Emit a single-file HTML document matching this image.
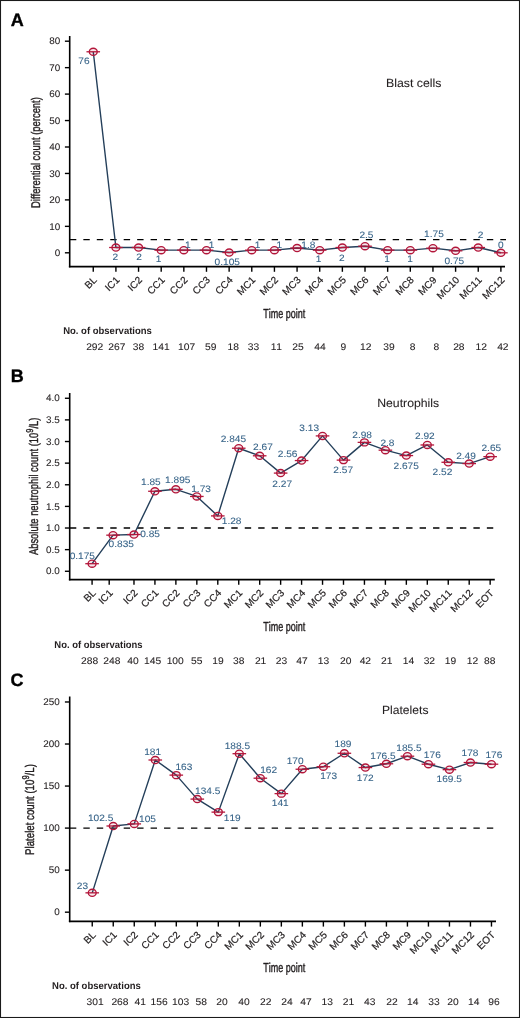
<!DOCTYPE html>
<html><head><meta charset="utf-8"><style>
html,body{margin:0;padding:0;background:#fff;}
svg{display:block;will-change:transform;}
text{font-family:"Liberation Sans", sans-serif;text-rendering:geometricPrecision;font-kerning:none;}
</style></head><body>
<svg width="520" height="1018" viewBox="0 0 520 1018">
<rect x="0" y="0" width="520" height="1018" fill="#fff"/>
<rect x="0.5" y="0.5" width="519" height="1017" fill="none" stroke="#1a1a1a" stroke-width="1.1"/>
<line x1="69.70" y1="36.00" x2="69.70" y2="267.35" stroke="#000" stroke-width="1.6"/>
<line x1="68.90" y1="266.60" x2="505.00" y2="266.60" stroke="#000" stroke-width="1.6"/>
<line x1="64.90" y1="252.80" x2="69.70" y2="252.80" stroke="#000" stroke-width="1.4"/>
<text transform="translate(54.79,256.00) scale(1.0300,1)" font-size="9.60" fill="#231f20" stroke="#231f20" stroke-width="0.08" stroke-linejoin="round">0</text>
<line x1="64.90" y1="226.35" x2="69.70" y2="226.35" stroke="#000" stroke-width="1.4"/>
<text transform="translate(49.29,229.55) scale(1.0300,1)" font-size="9.60" fill="#231f20" stroke="#231f20" stroke-width="0.08" stroke-linejoin="round">10</text>
<line x1="64.90" y1="199.90" x2="69.70" y2="199.90" stroke="#000" stroke-width="1.4"/>
<text transform="translate(49.29,203.10) scale(1.0300,1)" font-size="9.60" fill="#231f20" stroke="#231f20" stroke-width="0.08" stroke-linejoin="round">20</text>
<line x1="64.90" y1="173.45" x2="69.70" y2="173.45" stroke="#000" stroke-width="1.4"/>
<text transform="translate(49.29,176.65) scale(1.0300,1)" font-size="9.60" fill="#231f20" stroke="#231f20" stroke-width="0.08" stroke-linejoin="round">30</text>
<line x1="64.90" y1="147.00" x2="69.70" y2="147.00" stroke="#000" stroke-width="1.4"/>
<text transform="translate(49.29,150.20) scale(1.0300,1)" font-size="9.60" fill="#231f20" stroke="#231f20" stroke-width="0.08" stroke-linejoin="round">40</text>
<line x1="64.90" y1="120.55" x2="69.70" y2="120.55" stroke="#000" stroke-width="1.4"/>
<text transform="translate(49.29,123.75) scale(1.0300,1)" font-size="9.60" fill="#231f20" stroke="#231f20" stroke-width="0.08" stroke-linejoin="round">50</text>
<line x1="64.90" y1="94.10" x2="69.70" y2="94.10" stroke="#000" stroke-width="1.4"/>
<text transform="translate(49.29,97.30) scale(1.0300,1)" font-size="9.60" fill="#231f20" stroke="#231f20" stroke-width="0.08" stroke-linejoin="round">60</text>
<line x1="64.90" y1="67.65" x2="69.70" y2="67.65" stroke="#000" stroke-width="1.4"/>
<text transform="translate(49.29,70.85) scale(1.0300,1)" font-size="9.60" fill="#231f20" stroke="#231f20" stroke-width="0.08" stroke-linejoin="round">70</text>
<line x1="64.90" y1="41.20" x2="69.70" y2="41.20" stroke="#000" stroke-width="1.4"/>
<text transform="translate(49.29,44.40) scale(1.0300,1)" font-size="9.60" fill="#231f20" stroke="#231f20" stroke-width="0.08" stroke-linejoin="round">80</text>
<line x1="93.26" y1="266.60" x2="93.26" y2="271.80" stroke="#000" stroke-width="1.4"/>
<text transform="translate(97.56,280.60) rotate(-45) scale(1.0200,1)" x="-12.11" font-size="9.90" fill="#231f20" stroke="#231f20" stroke-width="0.20" stroke-linejoin="round">BL</text>
<line x1="115.91" y1="266.60" x2="115.91" y2="271.80" stroke="#000" stroke-width="1.4"/>
<text transform="translate(120.21,280.60) rotate(-45) scale(1.0200,1)" x="-15.41" font-size="9.90" fill="#231f20" stroke="#231f20" stroke-width="0.20" stroke-linejoin="round">IC1</text>
<line x1="138.55" y1="266.60" x2="138.55" y2="271.80" stroke="#000" stroke-width="1.4"/>
<text transform="translate(142.85,280.60) rotate(-45) scale(1.0200,1)" x="-15.41" font-size="9.90" fill="#231f20" stroke="#231f20" stroke-width="0.20" stroke-linejoin="round">IC2</text>
<line x1="161.20" y1="266.60" x2="161.20" y2="271.80" stroke="#000" stroke-width="1.4"/>
<text transform="translate(165.50,280.60) rotate(-45) scale(1.0200,1)" x="-19.80" font-size="9.90" fill="#231f20" stroke="#231f20" stroke-width="0.20" stroke-linejoin="round">CC1</text>
<line x1="183.84" y1="266.60" x2="183.84" y2="271.80" stroke="#000" stroke-width="1.4"/>
<text transform="translate(188.14,280.60) rotate(-45) scale(1.0200,1)" x="-19.80" font-size="9.90" fill="#231f20" stroke="#231f20" stroke-width="0.20" stroke-linejoin="round">CC2</text>
<line x1="206.49" y1="266.60" x2="206.49" y2="271.80" stroke="#000" stroke-width="1.4"/>
<text transform="translate(210.79,280.60) rotate(-45) scale(1.0200,1)" x="-19.80" font-size="9.90" fill="#231f20" stroke="#231f20" stroke-width="0.20" stroke-linejoin="round">CC3</text>
<line x1="229.14" y1="266.60" x2="229.14" y2="271.80" stroke="#000" stroke-width="1.4"/>
<text transform="translate(233.44,280.60) rotate(-45) scale(1.0200,1)" x="-19.80" font-size="9.90" fill="#231f20" stroke="#231f20" stroke-width="0.20" stroke-linejoin="round">CC4</text>
<line x1="251.78" y1="266.60" x2="251.78" y2="271.80" stroke="#000" stroke-width="1.4"/>
<text transform="translate(256.08,280.60) rotate(-45) scale(1.0200,1)" x="-20.90" font-size="9.90" fill="#231f20" stroke="#231f20" stroke-width="0.20" stroke-linejoin="round">MC1</text>
<line x1="274.43" y1="266.60" x2="274.43" y2="271.80" stroke="#000" stroke-width="1.4"/>
<text transform="translate(278.73,280.60) rotate(-45) scale(1.0200,1)" x="-20.90" font-size="9.90" fill="#231f20" stroke="#231f20" stroke-width="0.20" stroke-linejoin="round">MC2</text>
<line x1="297.07" y1="266.60" x2="297.07" y2="271.80" stroke="#000" stroke-width="1.4"/>
<text transform="translate(301.37,280.60) rotate(-45) scale(1.0200,1)" x="-20.90" font-size="9.90" fill="#231f20" stroke="#231f20" stroke-width="0.20" stroke-linejoin="round">MC3</text>
<line x1="319.72" y1="266.60" x2="319.72" y2="271.80" stroke="#000" stroke-width="1.4"/>
<text transform="translate(324.02,280.60) rotate(-45) scale(1.0200,1)" x="-20.90" font-size="9.90" fill="#231f20" stroke="#231f20" stroke-width="0.20" stroke-linejoin="round">MC4</text>
<line x1="342.37" y1="266.60" x2="342.37" y2="271.80" stroke="#000" stroke-width="1.4"/>
<text transform="translate(346.67,280.60) rotate(-45) scale(1.0200,1)" x="-20.90" font-size="9.90" fill="#231f20" stroke="#231f20" stroke-width="0.20" stroke-linejoin="round">MC5</text>
<line x1="365.01" y1="266.60" x2="365.01" y2="271.80" stroke="#000" stroke-width="1.4"/>
<text transform="translate(369.31,280.60) rotate(-45) scale(1.0200,1)" x="-20.90" font-size="9.90" fill="#231f20" stroke="#231f20" stroke-width="0.20" stroke-linejoin="round">MC6</text>
<line x1="387.66" y1="266.60" x2="387.66" y2="271.80" stroke="#000" stroke-width="1.4"/>
<text transform="translate(391.96,280.60) rotate(-45) scale(1.0200,1)" x="-20.90" font-size="9.90" fill="#231f20" stroke="#231f20" stroke-width="0.20" stroke-linejoin="round">MC7</text>
<line x1="410.30" y1="266.60" x2="410.30" y2="271.80" stroke="#000" stroke-width="1.4"/>
<text transform="translate(414.60,280.60) rotate(-45) scale(1.0200,1)" x="-20.90" font-size="9.90" fill="#231f20" stroke="#231f20" stroke-width="0.20" stroke-linejoin="round">MC8</text>
<line x1="432.95" y1="266.60" x2="432.95" y2="271.80" stroke="#000" stroke-width="1.4"/>
<text transform="translate(437.25,280.60) rotate(-45) scale(1.0200,1)" x="-20.90" font-size="9.90" fill="#231f20" stroke="#231f20" stroke-width="0.20" stroke-linejoin="round">MC9</text>
<line x1="455.60" y1="266.60" x2="455.60" y2="271.80" stroke="#000" stroke-width="1.4"/>
<text transform="translate(459.90,280.60) rotate(-45) scale(1.0200,1)" x="-26.41" font-size="9.90" fill="#231f20" stroke="#231f20" stroke-width="0.20" stroke-linejoin="round">MC10</text>
<line x1="478.24" y1="266.60" x2="478.24" y2="271.80" stroke="#000" stroke-width="1.4"/>
<text transform="translate(482.54,280.60) rotate(-45) scale(1.0200,1)" x="-26.41" font-size="9.90" fill="#231f20" stroke="#231f20" stroke-width="0.20" stroke-linejoin="round">MC11</text>
<line x1="500.89" y1="266.60" x2="500.89" y2="271.80" stroke="#000" stroke-width="1.4"/>
<text transform="translate(505.19,280.60) rotate(-45) scale(1.0200,1)" x="-26.41" font-size="9.90" fill="#231f20" stroke="#231f20" stroke-width="0.20" stroke-linejoin="round">MC12</text>
<line x1="69.90" y1="239.58" x2="506.00" y2="239.58" stroke="#000" stroke-width="1.35" stroke-dasharray="6.4 7.05"/>
<polyline points="93.26,51.78 115.91,247.51 138.55,247.51 161.20,250.16 183.84,250.16 206.49,250.16 229.14,252.52 251.78,250.16 274.43,250.16 297.07,248.04 319.72,250.16 342.37,247.51 365.01,246.19 387.66,250.16 410.30,250.16 432.95,248.17 455.60,250.82 478.24,247.51 500.89,252.80" fill="none" stroke="#243f5a" stroke-width="1.4" stroke-linejoin="round"/>
<ellipse cx="93.26" cy="51.78" rx="3.95" ry="3.55" fill="#b3163a" fill-opacity="0.1" stroke="#b3163a" stroke-width="1.35"/>
<line x1="86.46" y1="51.78" x2="100.06" y2="51.78" stroke="#b3163a" stroke-width="1.3"/>
<ellipse cx="115.91" cy="247.51" rx="3.95" ry="3.55" fill="#b3163a" fill-opacity="0.1" stroke="#b3163a" stroke-width="1.35"/>
<line x1="109.11" y1="247.51" x2="122.71" y2="247.51" stroke="#b3163a" stroke-width="1.3"/>
<ellipse cx="138.55" cy="247.51" rx="3.95" ry="3.55" fill="#b3163a" fill-opacity="0.1" stroke="#b3163a" stroke-width="1.35"/>
<line x1="131.75" y1="247.51" x2="145.35" y2="247.51" stroke="#b3163a" stroke-width="1.3"/>
<ellipse cx="161.20" cy="250.16" rx="3.95" ry="3.55" fill="#b3163a" fill-opacity="0.1" stroke="#b3163a" stroke-width="1.35"/>
<line x1="154.40" y1="250.16" x2="168.00" y2="250.16" stroke="#b3163a" stroke-width="1.3"/>
<ellipse cx="183.84" cy="250.16" rx="3.95" ry="3.55" fill="#b3163a" fill-opacity="0.1" stroke="#b3163a" stroke-width="1.35"/>
<line x1="177.04" y1="250.16" x2="190.64" y2="250.16" stroke="#b3163a" stroke-width="1.3"/>
<ellipse cx="206.49" cy="250.16" rx="3.95" ry="3.55" fill="#b3163a" fill-opacity="0.1" stroke="#b3163a" stroke-width="1.35"/>
<line x1="199.69" y1="250.16" x2="213.29" y2="250.16" stroke="#b3163a" stroke-width="1.3"/>
<ellipse cx="229.14" cy="252.52" rx="3.95" ry="3.55" fill="#b3163a" fill-opacity="0.1" stroke="#b3163a" stroke-width="1.35"/>
<line x1="222.34" y1="252.52" x2="235.94" y2="252.52" stroke="#b3163a" stroke-width="1.3"/>
<ellipse cx="251.78" cy="250.16" rx="3.95" ry="3.55" fill="#b3163a" fill-opacity="0.1" stroke="#b3163a" stroke-width="1.35"/>
<line x1="244.98" y1="250.16" x2="258.58" y2="250.16" stroke="#b3163a" stroke-width="1.3"/>
<ellipse cx="274.43" cy="250.16" rx="3.95" ry="3.55" fill="#b3163a" fill-opacity="0.1" stroke="#b3163a" stroke-width="1.35"/>
<line x1="267.63" y1="250.16" x2="281.23" y2="250.16" stroke="#b3163a" stroke-width="1.3"/>
<ellipse cx="297.07" cy="248.04" rx="3.95" ry="3.55" fill="#b3163a" fill-opacity="0.1" stroke="#b3163a" stroke-width="1.35"/>
<line x1="290.27" y1="248.04" x2="303.87" y2="248.04" stroke="#b3163a" stroke-width="1.3"/>
<ellipse cx="319.72" cy="250.16" rx="3.95" ry="3.55" fill="#b3163a" fill-opacity="0.1" stroke="#b3163a" stroke-width="1.35"/>
<line x1="312.92" y1="250.16" x2="326.52" y2="250.16" stroke="#b3163a" stroke-width="1.3"/>
<ellipse cx="342.37" cy="247.51" rx="3.95" ry="3.55" fill="#b3163a" fill-opacity="0.1" stroke="#b3163a" stroke-width="1.35"/>
<line x1="335.57" y1="247.51" x2="349.17" y2="247.51" stroke="#b3163a" stroke-width="1.3"/>
<ellipse cx="365.01" cy="246.19" rx="3.95" ry="3.55" fill="#b3163a" fill-opacity="0.1" stroke="#b3163a" stroke-width="1.35"/>
<line x1="358.21" y1="246.19" x2="371.81" y2="246.19" stroke="#b3163a" stroke-width="1.3"/>
<ellipse cx="387.66" cy="250.16" rx="3.95" ry="3.55" fill="#b3163a" fill-opacity="0.1" stroke="#b3163a" stroke-width="1.35"/>
<line x1="380.86" y1="250.16" x2="394.46" y2="250.16" stroke="#b3163a" stroke-width="1.3"/>
<ellipse cx="410.30" cy="250.16" rx="3.95" ry="3.55" fill="#b3163a" fill-opacity="0.1" stroke="#b3163a" stroke-width="1.35"/>
<line x1="403.50" y1="250.16" x2="417.10" y2="250.16" stroke="#b3163a" stroke-width="1.3"/>
<ellipse cx="432.95" cy="248.17" rx="3.95" ry="3.55" fill="#b3163a" fill-opacity="0.1" stroke="#b3163a" stroke-width="1.35"/>
<line x1="426.15" y1="248.17" x2="439.75" y2="248.17" stroke="#b3163a" stroke-width="1.3"/>
<ellipse cx="455.60" cy="250.82" rx="3.95" ry="3.55" fill="#b3163a" fill-opacity="0.1" stroke="#b3163a" stroke-width="1.35"/>
<line x1="448.80" y1="250.82" x2="462.40" y2="250.82" stroke="#b3163a" stroke-width="1.3"/>
<ellipse cx="478.24" cy="247.51" rx="3.95" ry="3.55" fill="#b3163a" fill-opacity="0.1" stroke="#b3163a" stroke-width="1.35"/>
<line x1="471.44" y1="247.51" x2="485.04" y2="247.51" stroke="#b3163a" stroke-width="1.3"/>
<ellipse cx="500.89" cy="252.80" rx="3.95" ry="3.55" fill="#b3163a" fill-opacity="0.1" stroke="#b3163a" stroke-width="1.35"/>
<line x1="494.09" y1="252.80" x2="507.69" y2="252.80" stroke="#b3163a" stroke-width="1.3"/>
<text transform="translate(78.32,63.69) scale(1.0800,1)" font-size="9.40" fill="#356287" stroke="#356287" stroke-width="0.08" stroke-linejoin="round">76</text>
<text transform="translate(112.48,259.88) scale(1.0800,1)" font-size="9.40" fill="#356287" stroke="#356287" stroke-width="0.08" stroke-linejoin="round">2</text>
<text transform="translate(136.28,259.53) scale(1.0800,1)" font-size="9.40" fill="#356287" stroke="#356287" stroke-width="0.08" stroke-linejoin="round">2</text>
<text transform="translate(155.79,262.33) scale(1.0800,1)" font-size="9.40" fill="#356287" stroke="#356287" stroke-width="0.08" stroke-linejoin="round">1</text>
<text transform="translate(184.99,247.68) scale(1.0800,1)" font-size="9.40" fill="#356287" stroke="#356287" stroke-width="0.08" stroke-linejoin="round">1</text>
<text transform="translate(208.64,247.68) scale(1.0800,1)" font-size="9.40" fill="#356287" stroke="#356287" stroke-width="0.08" stroke-linejoin="round">1</text>
<text transform="translate(214.61,264.74) scale(1.0800,1)" font-size="9.40" fill="#356287" stroke="#356287" stroke-width="0.08" stroke-linejoin="round">0.105</text>
<text transform="translate(254.84,247.53) scale(1.0800,1)" font-size="9.40" fill="#356287" stroke="#356287" stroke-width="0.08" stroke-linejoin="round">1</text>
<text transform="translate(276.44,247.53) scale(1.0800,1)" font-size="9.40" fill="#356287" stroke="#356287" stroke-width="0.08" stroke-linejoin="round">1</text>
<text transform="translate(301.28,248.04) scale(1.0800,1)" font-size="9.40" fill="#356287" stroke="#356287" stroke-width="0.08" stroke-linejoin="round">1.8</text>
<text transform="translate(315.79,262.48) scale(1.0800,1)" font-size="9.40" fill="#356287" stroke="#356287" stroke-width="0.08" stroke-linejoin="round">1</text>
<text transform="translate(338.98,261.08) scale(1.0800,1)" font-size="9.40" fill="#356287" stroke="#356287" stroke-width="0.08" stroke-linejoin="round">2</text>
<text transform="translate(359.40,237.59) scale(1.0800,1)" font-size="9.40" fill="#356287" stroke="#356287" stroke-width="0.08" stroke-linejoin="round">2.5</text>
<text transform="translate(384.14,262.13) scale(1.0800,1)" font-size="9.40" fill="#356287" stroke="#356287" stroke-width="0.08" stroke-linejoin="round">1</text>
<text transform="translate(407.24,262.03) scale(1.0800,1)" font-size="9.40" fill="#356287" stroke="#356287" stroke-width="0.08" stroke-linejoin="round">1</text>
<text transform="translate(424.05,237.44) scale(1.0800,1)" font-size="9.40" fill="#356287" stroke="#356287" stroke-width="0.08" stroke-linejoin="round">1.75</text>
<text transform="translate(444.44,263.59) scale(1.0800,1)" font-size="9.40" fill="#356287" stroke="#356287" stroke-width="0.08" stroke-linejoin="round">0.75</text>
<text transform="translate(477.68,237.53) scale(1.0800,1)" font-size="9.40" fill="#356287" stroke="#356287" stroke-width="0.08" stroke-linejoin="round">2</text>
<text transform="translate(497.98,248.09) scale(1.0800,1)" font-size="9.40" fill="#356287" stroke="#356287" stroke-width="0.08" stroke-linejoin="round">0</text>
<text transform="translate(385.99,86.60) scale(1.0440,1)" font-size="11.80" fill="#231f20" stroke="#231f20" stroke-width="0.08" stroke-linejoin="round">Blast cells</text>
<text transform="translate(39.90,207.97) rotate(-90) scale(0.7467,1)" font-size="12.60" fill="#231f20" stroke="#231f20" stroke-width="0.42" stroke-linejoin="round">Differential count (percent)</text>
<text transform="translate(263.30,317.50) scale(0.6915,1)" font-size="13.00" fill="#231f20" stroke="#231f20" stroke-width="0.42" stroke-linejoin="round">Time point</text>
<text transform="translate(63.16,334.20) scale(0.9505,1)" font-size="10.00" font-weight="bold" fill="#231f20">No. of observations</text>
<text transform="translate(86.13,349.90) scale(1.0700,1)" font-size="9.60" fill="#231f20" stroke="#231f20" stroke-width="0.08" stroke-linejoin="round">292</text>
<text transform="translate(108.33,349.90) scale(1.0700,1)" font-size="9.60" fill="#231f20" stroke="#231f20" stroke-width="0.08" stroke-linejoin="round">267</text>
<text transform="translate(132.71,349.90) scale(1.0700,1)" font-size="9.60" fill="#231f20" stroke="#231f20" stroke-width="0.08" stroke-linejoin="round">38</text>
<text transform="translate(152.49,349.90) scale(1.0700,1)" font-size="9.60" fill="#231f20" stroke="#231f20" stroke-width="0.08" stroke-linejoin="round">141</text>
<text transform="translate(178.00,349.90) scale(1.0700,1)" font-size="9.60" fill="#231f20" stroke="#231f20" stroke-width="0.08" stroke-linejoin="round">107</text>
<text transform="translate(204.92,349.90) scale(1.0700,1)" font-size="9.60" fill="#231f20" stroke="#231f20" stroke-width="0.08" stroke-linejoin="round">59</text>
<text transform="translate(227.62,349.90) scale(1.0700,1)" font-size="9.60" fill="#231f20" stroke="#231f20" stroke-width="0.08" stroke-linejoin="round">18</text>
<text transform="translate(247.82,349.90) scale(1.0700,1)" font-size="9.60" fill="#231f20" stroke="#231f20" stroke-width="0.08" stroke-linejoin="round">33</text>
<text transform="translate(270.65,349.90) scale(1.0700,1)" font-size="9.60" fill="#231f20" stroke="#231f20" stroke-width="0.08" stroke-linejoin="round">11</text>
<text transform="translate(292.34,349.90) scale(1.0700,1)" font-size="9.60" fill="#231f20" stroke="#231f20" stroke-width="0.08" stroke-linejoin="round">25</text>
<text transform="translate(314.32,349.90) scale(1.0700,1)" font-size="9.60" fill="#231f20" stroke="#231f20" stroke-width="0.08" stroke-linejoin="round">44</text>
<text transform="translate(340.45,349.90) scale(1.0700,1)" font-size="9.60" fill="#231f20" stroke="#231f20" stroke-width="0.08" stroke-linejoin="round">9</text>
<text transform="translate(359.95,349.95) scale(1.0700,1)" font-size="9.60" fill="#231f20" stroke="#231f20" stroke-width="0.08" stroke-linejoin="round">12</text>
<text transform="translate(383.33,349.90) scale(1.0700,1)" font-size="9.60" fill="#231f20" stroke="#231f20" stroke-width="0.08" stroke-linejoin="round">39</text>
<text transform="translate(409.64,349.90) scale(1.0700,1)" font-size="9.60" fill="#231f20" stroke="#231f20" stroke-width="0.08" stroke-linejoin="round">8</text>
<text transform="translate(433.44,349.90) scale(1.0700,1)" font-size="9.60" fill="#231f20" stroke="#231f20" stroke-width="0.08" stroke-linejoin="round">8</text>
<text transform="translate(453.15,349.90) scale(1.0700,1)" font-size="9.60" fill="#231f20" stroke="#231f20" stroke-width="0.08" stroke-linejoin="round">28</text>
<text transform="translate(475.55,349.95) scale(1.0700,1)" font-size="9.60" fill="#231f20" stroke="#231f20" stroke-width="0.08" stroke-linejoin="round">12</text>
<text transform="translate(497.13,349.95) scale(1.0700,1)" font-size="9.60" fill="#231f20" stroke="#231f20" stroke-width="0.08" stroke-linejoin="round">42</text>
<text transform="translate(10.66,25.69)" font-size="18.00" font-weight="bold" fill="#000" stroke="#000" stroke-width="0.35" stroke-linejoin="round">A</text>
<line x1="69.70" y1="393.00" x2="69.70" y2="580.35" stroke="#000" stroke-width="1.6"/>
<line x1="68.90" y1="579.60" x2="494.80" y2="579.60" stroke="#000" stroke-width="1.6"/>
<line x1="64.90" y1="571.27" x2="69.70" y2="571.27" stroke="#000" stroke-width="1.4"/>
<text transform="translate(45.94,574.47) scale(1.0300,1)" font-size="9.60" fill="#231f20" stroke="#231f20" stroke-width="0.08" stroke-linejoin="round">0.0</text>
<line x1="64.90" y1="549.64" x2="69.70" y2="549.64" stroke="#000" stroke-width="1.4"/>
<text transform="translate(45.97,552.85) scale(1.0300,1)" font-size="9.60" fill="#231f20" stroke="#231f20" stroke-width="0.08" stroke-linejoin="round">0.5</text>
<line x1="64.90" y1="528.02" x2="69.70" y2="528.02" stroke="#000" stroke-width="1.4"/>
<text transform="translate(45.94,531.22) scale(1.0300,1)" font-size="9.60" fill="#231f20" stroke="#231f20" stroke-width="0.08" stroke-linejoin="round">1.0</text>
<line x1="64.90" y1="506.39" x2="69.70" y2="506.39" stroke="#000" stroke-width="1.4"/>
<text transform="translate(45.97,509.55) scale(1.0300,1)" font-size="9.60" fill="#231f20" stroke="#231f20" stroke-width="0.08" stroke-linejoin="round">1.5</text>
<line x1="64.90" y1="484.77" x2="69.70" y2="484.77" stroke="#000" stroke-width="1.4"/>
<text transform="translate(45.94,487.97) scale(1.0300,1)" font-size="9.60" fill="#231f20" stroke="#231f20" stroke-width="0.08" stroke-linejoin="round">2.0</text>
<line x1="64.90" y1="463.14" x2="69.70" y2="463.14" stroke="#000" stroke-width="1.4"/>
<text transform="translate(45.97,466.35) scale(1.0300,1)" font-size="9.60" fill="#231f20" stroke="#231f20" stroke-width="0.08" stroke-linejoin="round">2.5</text>
<line x1="64.90" y1="441.52" x2="69.70" y2="441.52" stroke="#000" stroke-width="1.4"/>
<text transform="translate(45.94,444.72) scale(1.0300,1)" font-size="9.60" fill="#231f20" stroke="#231f20" stroke-width="0.08" stroke-linejoin="round">3.0</text>
<line x1="64.90" y1="419.89" x2="69.70" y2="419.89" stroke="#000" stroke-width="1.4"/>
<text transform="translate(45.97,423.10) scale(1.0300,1)" font-size="9.60" fill="#231f20" stroke="#231f20" stroke-width="0.08" stroke-linejoin="round">3.5</text>
<line x1="64.90" y1="398.27" x2="69.70" y2="398.27" stroke="#000" stroke-width="1.4"/>
<text transform="translate(45.94,401.47) scale(1.0300,1)" font-size="9.60" fill="#231f20" stroke="#231f20" stroke-width="0.08" stroke-linejoin="round">4.0</text>
<line x1="92.08" y1="579.60" x2="92.08" y2="584.80" stroke="#000" stroke-width="1.4"/>
<text transform="translate(96.38,593.60) rotate(-45) scale(1.0200,1)" x="-12.11" font-size="9.90" fill="#231f20" stroke="#231f20" stroke-width="0.20" stroke-linejoin="round">BL</text>
<line x1="109.20" y1="579.60" x2="109.20" y2="584.80" stroke="#000" stroke-width="1.4"/>
<text transform="translate(113.50,593.60) rotate(-45) scale(1.0200,1)" x="-15.41" font-size="9.90" fill="#231f20" stroke="#231f20" stroke-width="0.20" stroke-linejoin="round">IC1</text>
<line x1="133.98" y1="579.60" x2="133.98" y2="584.80" stroke="#000" stroke-width="1.4"/>
<text transform="translate(138.28,593.60) rotate(-45) scale(1.0200,1)" x="-15.41" font-size="9.90" fill="#231f20" stroke="#231f20" stroke-width="0.20" stroke-linejoin="round">IC2</text>
<line x1="154.93" y1="579.60" x2="154.93" y2="584.80" stroke="#000" stroke-width="1.4"/>
<text transform="translate(159.23,593.60) rotate(-45) scale(1.0200,1)" x="-19.80" font-size="9.90" fill="#231f20" stroke="#231f20" stroke-width="0.20" stroke-linejoin="round">CC1</text>
<line x1="175.88" y1="579.60" x2="175.88" y2="584.80" stroke="#000" stroke-width="1.4"/>
<text transform="translate(180.18,593.60) rotate(-45) scale(1.0200,1)" x="-19.80" font-size="9.90" fill="#231f20" stroke="#231f20" stroke-width="0.20" stroke-linejoin="round">CC2</text>
<line x1="196.83" y1="579.60" x2="196.83" y2="584.80" stroke="#000" stroke-width="1.4"/>
<text transform="translate(201.13,593.60) rotate(-45) scale(1.0200,1)" x="-19.80" font-size="9.90" fill="#231f20" stroke="#231f20" stroke-width="0.20" stroke-linejoin="round">CC3</text>
<line x1="217.79" y1="579.60" x2="217.79" y2="584.80" stroke="#000" stroke-width="1.4"/>
<text transform="translate(222.09,593.60) rotate(-45) scale(1.0200,1)" x="-19.80" font-size="9.90" fill="#231f20" stroke="#231f20" stroke-width="0.20" stroke-linejoin="round">CC4</text>
<line x1="238.74" y1="579.60" x2="238.74" y2="584.80" stroke="#000" stroke-width="1.4"/>
<text transform="translate(243.04,593.60) rotate(-45) scale(1.0200,1)" x="-20.90" font-size="9.90" fill="#231f20" stroke="#231f20" stroke-width="0.20" stroke-linejoin="round">MC1</text>
<line x1="259.69" y1="579.60" x2="259.69" y2="584.80" stroke="#000" stroke-width="1.4"/>
<text transform="translate(263.99,593.60) rotate(-45) scale(1.0200,1)" x="-20.90" font-size="9.90" fill="#231f20" stroke="#231f20" stroke-width="0.20" stroke-linejoin="round">MC2</text>
<line x1="280.64" y1="579.60" x2="280.64" y2="584.80" stroke="#000" stroke-width="1.4"/>
<text transform="translate(284.94,593.60) rotate(-45) scale(1.0200,1)" x="-20.90" font-size="9.90" fill="#231f20" stroke="#231f20" stroke-width="0.20" stroke-linejoin="round">MC3</text>
<line x1="301.59" y1="579.60" x2="301.59" y2="584.80" stroke="#000" stroke-width="1.4"/>
<text transform="translate(305.89,593.60) rotate(-45) scale(1.0200,1)" x="-20.90" font-size="9.90" fill="#231f20" stroke="#231f20" stroke-width="0.20" stroke-linejoin="round">MC4</text>
<line x1="322.54" y1="579.60" x2="322.54" y2="584.80" stroke="#000" stroke-width="1.4"/>
<text transform="translate(326.84,593.60) rotate(-45) scale(1.0200,1)" x="-20.90" font-size="9.90" fill="#231f20" stroke="#231f20" stroke-width="0.20" stroke-linejoin="round">MC5</text>
<line x1="343.49" y1="579.60" x2="343.49" y2="584.80" stroke="#000" stroke-width="1.4"/>
<text transform="translate(347.79,593.60) rotate(-45) scale(1.0200,1)" x="-20.90" font-size="9.90" fill="#231f20" stroke="#231f20" stroke-width="0.20" stroke-linejoin="round">MC6</text>
<line x1="364.44" y1="579.60" x2="364.44" y2="584.80" stroke="#000" stroke-width="1.4"/>
<text transform="translate(368.74,593.60) rotate(-45) scale(1.0200,1)" x="-20.90" font-size="9.90" fill="#231f20" stroke="#231f20" stroke-width="0.20" stroke-linejoin="round">MC7</text>
<line x1="385.39" y1="579.60" x2="385.39" y2="584.80" stroke="#000" stroke-width="1.4"/>
<text transform="translate(389.69,593.60) rotate(-45) scale(1.0200,1)" x="-20.90" font-size="9.90" fill="#231f20" stroke="#231f20" stroke-width="0.20" stroke-linejoin="round">MC8</text>
<line x1="406.34" y1="579.60" x2="406.34" y2="584.80" stroke="#000" stroke-width="1.4"/>
<text transform="translate(410.64,593.60) rotate(-45) scale(1.0200,1)" x="-20.90" font-size="9.90" fill="#231f20" stroke="#231f20" stroke-width="0.20" stroke-linejoin="round">MC9</text>
<line x1="427.30" y1="579.60" x2="427.30" y2="584.80" stroke="#000" stroke-width="1.4"/>
<text transform="translate(431.60,593.60) rotate(-45) scale(1.0200,1)" x="-26.41" font-size="9.90" fill="#231f20" stroke="#231f20" stroke-width="0.20" stroke-linejoin="round">MC10</text>
<line x1="448.25" y1="579.60" x2="448.25" y2="584.80" stroke="#000" stroke-width="1.4"/>
<text transform="translate(452.55,593.60) rotate(-45) scale(1.0200,1)" x="-26.41" font-size="9.90" fill="#231f20" stroke="#231f20" stroke-width="0.20" stroke-linejoin="round">MC11</text>
<line x1="469.20" y1="579.60" x2="469.20" y2="584.80" stroke="#000" stroke-width="1.4"/>
<text transform="translate(473.50,593.60) rotate(-45) scale(1.0200,1)" x="-26.41" font-size="9.90" fill="#231f20" stroke="#231f20" stroke-width="0.20" stroke-linejoin="round">MC12</text>
<line x1="490.15" y1="579.60" x2="490.15" y2="584.80" stroke="#000" stroke-width="1.4"/>
<text transform="translate(494.45,593.60) rotate(-45) scale(1.0200,1)" x="-20.35" font-size="9.90" fill="#231f20" stroke="#231f20" stroke-width="0.20" stroke-linejoin="round">EOT</text>
<line x1="69.90" y1="528.02" x2="494.00" y2="528.02" stroke="#000" stroke-width="1.35" stroke-dasharray="6.4 7.05"/>
<polyline points="92.08,563.70 113.03,535.16 133.98,534.51 154.93,491.26 175.88,489.31 196.83,496.45 217.79,515.91 238.74,448.22 259.69,455.79 280.64,473.09 301.59,460.55 322.54,435.90 343.49,460.12 364.44,442.38 385.39,450.17 406.34,455.58 427.30,444.98 448.25,462.28 469.20,463.58 490.15,456.66" fill="none" stroke="#243f5a" stroke-width="1.4" stroke-linejoin="round"/>
<ellipse cx="92.08" cy="563.70" rx="3.95" ry="3.55" fill="#b3163a" fill-opacity="0.1" stroke="#b3163a" stroke-width="1.35"/>
<line x1="85.28" y1="563.70" x2="98.88" y2="563.70" stroke="#b3163a" stroke-width="1.3"/>
<ellipse cx="113.03" cy="535.16" rx="3.95" ry="3.55" fill="#b3163a" fill-opacity="0.1" stroke="#b3163a" stroke-width="1.35"/>
<line x1="106.23" y1="535.16" x2="119.83" y2="535.16" stroke="#b3163a" stroke-width="1.3"/>
<ellipse cx="133.98" cy="534.51" rx="3.95" ry="3.55" fill="#b3163a" fill-opacity="0.1" stroke="#b3163a" stroke-width="1.35"/>
<line x1="127.18" y1="534.51" x2="140.78" y2="534.51" stroke="#b3163a" stroke-width="1.3"/>
<ellipse cx="154.93" cy="491.26" rx="3.95" ry="3.55" fill="#b3163a" fill-opacity="0.1" stroke="#b3163a" stroke-width="1.35"/>
<line x1="148.13" y1="491.26" x2="161.73" y2="491.26" stroke="#b3163a" stroke-width="1.3"/>
<ellipse cx="175.88" cy="489.31" rx="3.95" ry="3.55" fill="#b3163a" fill-opacity="0.1" stroke="#b3163a" stroke-width="1.35"/>
<line x1="169.08" y1="489.31" x2="182.68" y2="489.31" stroke="#b3163a" stroke-width="1.3"/>
<ellipse cx="196.83" cy="496.45" rx="3.95" ry="3.55" fill="#b3163a" fill-opacity="0.1" stroke="#b3163a" stroke-width="1.35"/>
<line x1="190.03" y1="496.45" x2="203.63" y2="496.45" stroke="#b3163a" stroke-width="1.3"/>
<ellipse cx="217.79" cy="515.91" rx="3.95" ry="3.55" fill="#b3163a" fill-opacity="0.1" stroke="#b3163a" stroke-width="1.35"/>
<line x1="210.99" y1="515.91" x2="224.59" y2="515.91" stroke="#b3163a" stroke-width="1.3"/>
<ellipse cx="238.74" cy="448.22" rx="3.95" ry="3.55" fill="#b3163a" fill-opacity="0.1" stroke="#b3163a" stroke-width="1.35"/>
<line x1="231.94" y1="448.22" x2="245.54" y2="448.22" stroke="#b3163a" stroke-width="1.3"/>
<ellipse cx="259.69" cy="455.79" rx="3.95" ry="3.55" fill="#b3163a" fill-opacity="0.1" stroke="#b3163a" stroke-width="1.35"/>
<line x1="252.89" y1="455.79" x2="266.49" y2="455.79" stroke="#b3163a" stroke-width="1.3"/>
<ellipse cx="280.64" cy="473.09" rx="3.95" ry="3.55" fill="#b3163a" fill-opacity="0.1" stroke="#b3163a" stroke-width="1.35"/>
<line x1="273.84" y1="473.09" x2="287.44" y2="473.09" stroke="#b3163a" stroke-width="1.3"/>
<ellipse cx="301.59" cy="460.55" rx="3.95" ry="3.55" fill="#b3163a" fill-opacity="0.1" stroke="#b3163a" stroke-width="1.35"/>
<line x1="294.79" y1="460.55" x2="308.39" y2="460.55" stroke="#b3163a" stroke-width="1.3"/>
<ellipse cx="322.54" cy="435.90" rx="3.95" ry="3.55" fill="#b3163a" fill-opacity="0.1" stroke="#b3163a" stroke-width="1.35"/>
<line x1="315.74" y1="435.90" x2="329.34" y2="435.90" stroke="#b3163a" stroke-width="1.3"/>
<ellipse cx="343.49" cy="460.12" rx="3.95" ry="3.55" fill="#b3163a" fill-opacity="0.1" stroke="#b3163a" stroke-width="1.35"/>
<line x1="336.69" y1="460.12" x2="350.29" y2="460.12" stroke="#b3163a" stroke-width="1.3"/>
<ellipse cx="364.44" cy="442.38" rx="3.95" ry="3.55" fill="#b3163a" fill-opacity="0.1" stroke="#b3163a" stroke-width="1.35"/>
<line x1="357.64" y1="442.38" x2="371.24" y2="442.38" stroke="#b3163a" stroke-width="1.3"/>
<ellipse cx="385.39" cy="450.17" rx="3.95" ry="3.55" fill="#b3163a" fill-opacity="0.1" stroke="#b3163a" stroke-width="1.35"/>
<line x1="378.59" y1="450.17" x2="392.19" y2="450.17" stroke="#b3163a" stroke-width="1.3"/>
<ellipse cx="406.34" cy="455.58" rx="3.95" ry="3.55" fill="#b3163a" fill-opacity="0.1" stroke="#b3163a" stroke-width="1.35"/>
<line x1="399.54" y1="455.58" x2="413.14" y2="455.58" stroke="#b3163a" stroke-width="1.3"/>
<ellipse cx="427.30" cy="444.98" rx="3.95" ry="3.55" fill="#b3163a" fill-opacity="0.1" stroke="#b3163a" stroke-width="1.35"/>
<line x1="420.50" y1="444.98" x2="434.10" y2="444.98" stroke="#b3163a" stroke-width="1.3"/>
<ellipse cx="448.25" cy="462.28" rx="3.95" ry="3.55" fill="#b3163a" fill-opacity="0.1" stroke="#b3163a" stroke-width="1.35"/>
<line x1="441.45" y1="462.28" x2="455.05" y2="462.28" stroke="#b3163a" stroke-width="1.3"/>
<ellipse cx="469.20" cy="463.58" rx="3.95" ry="3.55" fill="#b3163a" fill-opacity="0.1" stroke="#b3163a" stroke-width="1.35"/>
<line x1="462.40" y1="463.58" x2="476.00" y2="463.58" stroke="#b3163a" stroke-width="1.3"/>
<ellipse cx="490.15" cy="456.66" rx="3.95" ry="3.55" fill="#b3163a" fill-opacity="0.1" stroke="#b3163a" stroke-width="1.35"/>
<line x1="483.35" y1="456.66" x2="496.95" y2="456.66" stroke="#b3163a" stroke-width="1.3"/>
<text transform="translate(69.66,558.59) scale(1.0800,1)" font-size="9.40" fill="#356287" stroke="#356287" stroke-width="0.08" stroke-linejoin="round">0.175</text>
<text transform="translate(108.56,547.44) scale(1.0800,1)" font-size="9.40" fill="#356287" stroke="#356287" stroke-width="0.08" stroke-linejoin="round">0.835</text>
<text transform="translate(140.24,537.04) scale(1.0800,1)" font-size="9.40" fill="#356287" stroke="#356287" stroke-width="0.08" stroke-linejoin="round">0.85</text>
<text transform="translate(141.00,485.19) scale(1.0800,1)" font-size="9.40" fill="#356287" stroke="#356287" stroke-width="0.08" stroke-linejoin="round">1.85</text>
<text transform="translate(165.12,483.44) scale(1.0800,1)" font-size="9.40" fill="#356287" stroke="#356287" stroke-width="0.08" stroke-linejoin="round">1.895</text>
<text transform="translate(191.21,491.54) scale(1.0800,1)" font-size="9.40" fill="#356287" stroke="#356287" stroke-width="0.08" stroke-linejoin="round">1.73</text>
<text transform="translate(221.75,524.04) scale(1.0800,1)" font-size="9.40" fill="#356287" stroke="#356287" stroke-width="0.08" stroke-linejoin="round">1.28</text>
<text transform="translate(220.71,442.19) scale(1.0800,1)" font-size="9.40" fill="#356287" stroke="#356287" stroke-width="0.08" stroke-linejoin="round">2.845</text>
<text transform="translate(253.07,450.09) scale(1.0800,1)" font-size="9.40" fill="#356287" stroke="#356287" stroke-width="0.08" stroke-linejoin="round">2.67</text>
<text transform="translate(272.32,486.93) scale(1.0800,1)" font-size="9.40" fill="#356287" stroke="#356287" stroke-width="0.08" stroke-linejoin="round">2.27</text>
<text transform="translate(277.79,456.89) scale(1.0800,1)" font-size="9.40" fill="#356287" stroke="#356287" stroke-width="0.08" stroke-linejoin="round">2.56</text>
<text transform="translate(299.35,431.14) scale(1.0800,1)" font-size="9.40" fill="#356287" stroke="#356287" stroke-width="0.08" stroke-linejoin="round">3.13</text>
<text transform="translate(333.37,473.44) scale(1.0800,1)" font-size="9.40" fill="#356287" stroke="#356287" stroke-width="0.08" stroke-linejoin="round">2.57</text>
<text transform="translate(352.29,437.59) scale(1.0800,1)" font-size="9.40" fill="#356287" stroke="#356287" stroke-width="0.08" stroke-linejoin="round">2.98</text>
<text transform="translate(380.41,445.54) scale(1.0800,1)" font-size="9.40" fill="#356287" stroke="#356287" stroke-width="0.08" stroke-linejoin="round">2.8</text>
<text transform="translate(393.51,468.64) scale(1.0800,1)" font-size="9.40" fill="#356287" stroke="#356287" stroke-width="0.08" stroke-linejoin="round">2.675</text>
<text transform="translate(415.02,438.59) scale(1.0800,1)" font-size="9.40" fill="#356287" stroke="#356287" stroke-width="0.08" stroke-linejoin="round">2.92</text>
<text transform="translate(432.62,475.14) scale(1.0800,1)" font-size="9.40" fill="#356287" stroke="#356287" stroke-width="0.08" stroke-linejoin="round">2.52</text>
<text transform="translate(456.16,458.89) scale(1.0800,1)" font-size="9.40" fill="#356287" stroke="#356287" stroke-width="0.08" stroke-linejoin="round">2.49</text>
<text transform="translate(481.48,451.39) scale(1.0800,1)" font-size="9.40" fill="#356287" stroke="#356287" stroke-width="0.08" stroke-linejoin="round">2.65</text>
<text transform="translate(377.20,406.80) scale(1.0379,1)" font-size="11.80" fill="#231f20" stroke="#231f20" stroke-width="0.08" stroke-linejoin="round">Neutrophils</text>
<text transform="translate(37.60,555.12) rotate(-90) scale(0.7475,1)" font-size="12.60" fill="#231f20" stroke="#231f20" stroke-width="0.42" stroke-linejoin="round">Absolute neutrophil count (10<tspan font-size="9.83" dy="-4.54">9</tspan><tspan dy="4.54">/L)</tspan></text>
<text transform="translate(263.30,630.90) scale(0.6915,1)" font-size="13.00" fill="#231f20" stroke="#231f20" stroke-width="0.42" stroke-linejoin="round">Time point</text>
<text transform="translate(54.37,647.80) scale(0.9451,1)" font-size="10.00" font-weight="bold" fill="#231f20">No. of observations</text>
<text transform="translate(81.10,663.90) scale(1.0700,1)" font-size="9.60" fill="#231f20" stroke="#231f20" stroke-width="0.08" stroke-linejoin="round">288</text>
<text transform="translate(103.30,663.90) scale(1.0700,1)" font-size="9.60" fill="#231f20" stroke="#231f20" stroke-width="0.08" stroke-linejoin="round">248</text>
<text transform="translate(127.37,663.90) scale(1.0700,1)" font-size="9.60" fill="#231f20" stroke="#231f20" stroke-width="0.08" stroke-linejoin="round">40</text>
<text transform="translate(144.06,663.86) scale(1.0700,1)" font-size="9.60" fill="#231f20" stroke="#231f20" stroke-width="0.08" stroke-linejoin="round">145</text>
<text transform="translate(166.64,663.90) scale(1.0700,1)" font-size="9.60" fill="#231f20" stroke="#231f20" stroke-width="0.08" stroke-linejoin="round">100</text>
<text transform="translate(191.10,663.86) scale(1.0700,1)" font-size="9.60" fill="#231f20" stroke="#231f20" stroke-width="0.08" stroke-linejoin="round">55</text>
<text transform="translate(212.34,663.90) scale(1.0700,1)" font-size="9.60" fill="#231f20" stroke="#231f20" stroke-width="0.08" stroke-linejoin="round">19</text>
<text transform="translate(233.11,663.90) scale(1.0700,1)" font-size="9.60" fill="#231f20" stroke="#231f20" stroke-width="0.08" stroke-linejoin="round">38</text>
<text transform="translate(254.88,663.95) scale(1.0700,1)" font-size="9.60" fill="#231f20" stroke="#231f20" stroke-width="0.08" stroke-linejoin="round">21</text>
<text transform="translate(275.85,663.90) scale(1.0700,1)" font-size="9.60" fill="#231f20" stroke="#231f20" stroke-width="0.08" stroke-linejoin="round">23</text>
<text transform="translate(296.33,663.90) scale(1.0700,1)" font-size="9.60" fill="#231f20" stroke="#231f20" stroke-width="0.08" stroke-linejoin="round">47</text>
<text transform="translate(317.82,663.90) scale(1.0700,1)" font-size="9.60" fill="#231f20" stroke="#231f20" stroke-width="0.08" stroke-linejoin="round">13</text>
<text transform="translate(339.93,663.90) scale(1.0700,1)" font-size="9.60" fill="#231f20" stroke="#231f20" stroke-width="0.08" stroke-linejoin="round">20</text>
<text transform="translate(359.63,663.95) scale(1.0700,1)" font-size="9.60" fill="#231f20" stroke="#231f20" stroke-width="0.08" stroke-linejoin="round">42</text>
<text transform="translate(380.98,663.95) scale(1.0700,1)" font-size="9.60" fill="#231f20" stroke="#231f20" stroke-width="0.08" stroke-linejoin="round">21</text>
<text transform="translate(402.85,663.90) scale(1.0700,1)" font-size="9.60" fill="#231f20" stroke="#231f20" stroke-width="0.08" stroke-linejoin="round">14</text>
<text transform="translate(423.65,663.90) scale(1.0700,1)" font-size="9.60" fill="#231f20" stroke="#231f20" stroke-width="0.08" stroke-linejoin="round">32</text>
<text transform="translate(444.84,663.90) scale(1.0700,1)" font-size="9.60" fill="#231f20" stroke="#231f20" stroke-width="0.08" stroke-linejoin="round">19</text>
<text transform="translate(466.85,663.95) scale(1.0700,1)" font-size="9.60" fill="#231f20" stroke="#231f20" stroke-width="0.08" stroke-linejoin="round">12</text>
<text transform="translate(483.99,663.90) scale(1.0700,1)" font-size="9.60" fill="#231f20" stroke="#231f20" stroke-width="0.08" stroke-linejoin="round">88</text>
<text transform="translate(10.71,382.44)" font-size="18.00" font-weight="bold" fill="#000" stroke="#000" stroke-width="0.35" stroke-linejoin="round">B</text>
<line x1="69.70" y1="696.50" x2="69.70" y2="922.15" stroke="#000" stroke-width="1.6"/>
<line x1="68.90" y1="921.40" x2="496.00" y2="921.40" stroke="#000" stroke-width="1.6"/>
<line x1="64.90" y1="912.18" x2="69.70" y2="912.18" stroke="#000" stroke-width="1.4"/>
<text transform="translate(54.29,915.38) scale(1.0300,1)" font-size="9.60" fill="#231f20" stroke="#231f20" stroke-width="0.08" stroke-linejoin="round">0</text>
<line x1="64.90" y1="870.14" x2="69.70" y2="870.14" stroke="#000" stroke-width="1.4"/>
<text transform="translate(48.79,873.34) scale(1.0300,1)" font-size="9.60" fill="#231f20" stroke="#231f20" stroke-width="0.08" stroke-linejoin="round">50</text>
<line x1="64.90" y1="828.10" x2="69.70" y2="828.10" stroke="#000" stroke-width="1.4"/>
<text transform="translate(43.29,831.30) scale(1.0300,1)" font-size="9.60" fill="#231f20" stroke="#231f20" stroke-width="0.08" stroke-linejoin="round">100</text>
<line x1="64.90" y1="786.06" x2="69.70" y2="786.06" stroke="#000" stroke-width="1.4"/>
<text transform="translate(43.29,789.26) scale(1.0300,1)" font-size="9.60" fill="#231f20" stroke="#231f20" stroke-width="0.08" stroke-linejoin="round">150</text>
<line x1="64.90" y1="744.02" x2="69.70" y2="744.02" stroke="#000" stroke-width="1.4"/>
<text transform="translate(43.29,747.22) scale(1.0300,1)" font-size="9.60" fill="#231f20" stroke="#231f20" stroke-width="0.08" stroke-linejoin="round">200</text>
<line x1="64.90" y1="701.98" x2="69.70" y2="701.98" stroke="#000" stroke-width="1.4"/>
<text transform="translate(43.29,705.18) scale(1.0300,1)" font-size="9.60" fill="#231f20" stroke="#231f20" stroke-width="0.08" stroke-linejoin="round">250</text>
<line x1="92.24" y1="921.40" x2="92.24" y2="926.60" stroke="#000" stroke-width="1.4"/>
<text transform="translate(96.54,935.40) rotate(-45) scale(1.0200,1)" x="-12.11" font-size="9.90" fill="#231f20" stroke="#231f20" stroke-width="0.20" stroke-linejoin="round">BL</text>
<line x1="113.25" y1="921.40" x2="113.25" y2="926.60" stroke="#000" stroke-width="1.4"/>
<text transform="translate(117.55,935.40) rotate(-45) scale(1.0200,1)" x="-15.41" font-size="9.90" fill="#231f20" stroke="#231f20" stroke-width="0.20" stroke-linejoin="round">IC1</text>
<line x1="134.26" y1="921.40" x2="134.26" y2="926.60" stroke="#000" stroke-width="1.4"/>
<text transform="translate(138.56,935.40) rotate(-45) scale(1.0200,1)" x="-15.41" font-size="9.90" fill="#231f20" stroke="#231f20" stroke-width="0.20" stroke-linejoin="round">IC2</text>
<line x1="155.28" y1="921.40" x2="155.28" y2="926.60" stroke="#000" stroke-width="1.4"/>
<text transform="translate(159.58,935.40) rotate(-45) scale(1.0200,1)" x="-19.80" font-size="9.90" fill="#231f20" stroke="#231f20" stroke-width="0.20" stroke-linejoin="round">CC1</text>
<line x1="176.29" y1="921.40" x2="176.29" y2="926.60" stroke="#000" stroke-width="1.4"/>
<text transform="translate(180.59,935.40) rotate(-45) scale(1.0200,1)" x="-19.80" font-size="9.90" fill="#231f20" stroke="#231f20" stroke-width="0.20" stroke-linejoin="round">CC2</text>
<line x1="197.30" y1="921.40" x2="197.30" y2="926.60" stroke="#000" stroke-width="1.4"/>
<text transform="translate(201.60,935.40) rotate(-45) scale(1.0200,1)" x="-19.80" font-size="9.90" fill="#231f20" stroke="#231f20" stroke-width="0.20" stroke-linejoin="round">CC3</text>
<line x1="218.31" y1="921.40" x2="218.31" y2="926.60" stroke="#000" stroke-width="1.4"/>
<text transform="translate(222.61,935.40) rotate(-45) scale(1.0200,1)" x="-19.80" font-size="9.90" fill="#231f20" stroke="#231f20" stroke-width="0.20" stroke-linejoin="round">CC4</text>
<line x1="239.32" y1="921.40" x2="239.32" y2="926.60" stroke="#000" stroke-width="1.4"/>
<text transform="translate(243.62,935.40) rotate(-45) scale(1.0200,1)" x="-20.90" font-size="9.90" fill="#231f20" stroke="#231f20" stroke-width="0.20" stroke-linejoin="round">MC1</text>
<line x1="260.34" y1="921.40" x2="260.34" y2="926.60" stroke="#000" stroke-width="1.4"/>
<text transform="translate(264.64,935.40) rotate(-45) scale(1.0200,1)" x="-20.90" font-size="9.90" fill="#231f20" stroke="#231f20" stroke-width="0.20" stroke-linejoin="round">MC2</text>
<line x1="281.35" y1="921.40" x2="281.35" y2="926.60" stroke="#000" stroke-width="1.4"/>
<text transform="translate(285.65,935.40) rotate(-45) scale(1.0200,1)" x="-20.90" font-size="9.90" fill="#231f20" stroke="#231f20" stroke-width="0.20" stroke-linejoin="round">MC3</text>
<line x1="302.36" y1="921.40" x2="302.36" y2="926.60" stroke="#000" stroke-width="1.4"/>
<text transform="translate(306.66,935.40) rotate(-45) scale(1.0200,1)" x="-20.90" font-size="9.90" fill="#231f20" stroke="#231f20" stroke-width="0.20" stroke-linejoin="round">MC4</text>
<line x1="323.37" y1="921.40" x2="323.37" y2="926.60" stroke="#000" stroke-width="1.4"/>
<text transform="translate(327.67,935.40) rotate(-45) scale(1.0200,1)" x="-20.90" font-size="9.90" fill="#231f20" stroke="#231f20" stroke-width="0.20" stroke-linejoin="round">MC5</text>
<line x1="344.38" y1="921.40" x2="344.38" y2="926.60" stroke="#000" stroke-width="1.4"/>
<text transform="translate(348.68,935.40) rotate(-45) scale(1.0200,1)" x="-20.90" font-size="9.90" fill="#231f20" stroke="#231f20" stroke-width="0.20" stroke-linejoin="round">MC6</text>
<line x1="365.40" y1="921.40" x2="365.40" y2="926.60" stroke="#000" stroke-width="1.4"/>
<text transform="translate(369.70,935.40) rotate(-45) scale(1.0200,1)" x="-20.90" font-size="9.90" fill="#231f20" stroke="#231f20" stroke-width="0.20" stroke-linejoin="round">MC7</text>
<line x1="386.41" y1="921.40" x2="386.41" y2="926.60" stroke="#000" stroke-width="1.4"/>
<text transform="translate(390.71,935.40) rotate(-45) scale(1.0200,1)" x="-20.90" font-size="9.90" fill="#231f20" stroke="#231f20" stroke-width="0.20" stroke-linejoin="round">MC8</text>
<line x1="407.42" y1="921.40" x2="407.42" y2="926.60" stroke="#000" stroke-width="1.4"/>
<text transform="translate(411.72,935.40) rotate(-45) scale(1.0200,1)" x="-20.90" font-size="9.90" fill="#231f20" stroke="#231f20" stroke-width="0.20" stroke-linejoin="round">MC9</text>
<line x1="428.43" y1="921.40" x2="428.43" y2="926.60" stroke="#000" stroke-width="1.4"/>
<text transform="translate(432.73,935.40) rotate(-45) scale(1.0200,1)" x="-26.41" font-size="9.90" fill="#231f20" stroke="#231f20" stroke-width="0.20" stroke-linejoin="round">MC10</text>
<line x1="449.44" y1="921.40" x2="449.44" y2="926.60" stroke="#000" stroke-width="1.4"/>
<text transform="translate(453.74,935.40) rotate(-45) scale(1.0200,1)" x="-26.41" font-size="9.90" fill="#231f20" stroke="#231f20" stroke-width="0.20" stroke-linejoin="round">MC11</text>
<line x1="470.46" y1="921.40" x2="470.46" y2="926.60" stroke="#000" stroke-width="1.4"/>
<text transform="translate(474.76,935.40) rotate(-45) scale(1.0200,1)" x="-26.41" font-size="9.90" fill="#231f20" stroke="#231f20" stroke-width="0.20" stroke-linejoin="round">MC12</text>
<line x1="491.47" y1="921.40" x2="491.47" y2="926.60" stroke="#000" stroke-width="1.4"/>
<text transform="translate(495.77,935.40) rotate(-45) scale(1.0200,1)" x="-20.35" font-size="9.90" fill="#231f20" stroke="#231f20" stroke-width="0.20" stroke-linejoin="round">EOT</text>
<line x1="69.90" y1="828.10" x2="494.00" y2="828.10" stroke="#000" stroke-width="1.35" stroke-dasharray="6.4 7.05"/>
<polyline points="92.24,892.84 113.25,826.00 134.26,823.90 155.28,760.00 176.29,775.13 197.30,799.09 218.31,812.12 239.32,753.69 260.34,778.20 281.35,793.63 302.36,769.24 323.37,766.72 344.38,753.27 365.40,767.56 386.41,763.78 407.42,756.21 428.43,764.20 449.44,769.66 470.46,762.52 491.47,764.20" fill="none" stroke="#243f5a" stroke-width="1.4" stroke-linejoin="round"/>
<ellipse cx="92.24" cy="892.84" rx="3.95" ry="3.55" fill="#b3163a" fill-opacity="0.1" stroke="#b3163a" stroke-width="1.35"/>
<line x1="85.44" y1="892.84" x2="99.04" y2="892.84" stroke="#b3163a" stroke-width="1.3"/>
<ellipse cx="113.25" cy="826.00" rx="3.95" ry="3.55" fill="#b3163a" fill-opacity="0.1" stroke="#b3163a" stroke-width="1.35"/>
<line x1="106.45" y1="826.00" x2="120.05" y2="826.00" stroke="#b3163a" stroke-width="1.3"/>
<ellipse cx="134.26" cy="823.90" rx="3.95" ry="3.55" fill="#b3163a" fill-opacity="0.1" stroke="#b3163a" stroke-width="1.35"/>
<line x1="127.46" y1="823.90" x2="141.06" y2="823.90" stroke="#b3163a" stroke-width="1.3"/>
<ellipse cx="155.28" cy="760.00" rx="3.95" ry="3.55" fill="#b3163a" fill-opacity="0.1" stroke="#b3163a" stroke-width="1.35"/>
<line x1="148.48" y1="760.00" x2="162.08" y2="760.00" stroke="#b3163a" stroke-width="1.3"/>
<ellipse cx="176.29" cy="775.13" rx="3.95" ry="3.55" fill="#b3163a" fill-opacity="0.1" stroke="#b3163a" stroke-width="1.35"/>
<line x1="169.49" y1="775.13" x2="183.09" y2="775.13" stroke="#b3163a" stroke-width="1.3"/>
<ellipse cx="197.30" cy="799.09" rx="3.95" ry="3.55" fill="#b3163a" fill-opacity="0.1" stroke="#b3163a" stroke-width="1.35"/>
<line x1="190.50" y1="799.09" x2="204.10" y2="799.09" stroke="#b3163a" stroke-width="1.3"/>
<ellipse cx="218.31" cy="812.12" rx="3.95" ry="3.55" fill="#b3163a" fill-opacity="0.1" stroke="#b3163a" stroke-width="1.35"/>
<line x1="211.51" y1="812.12" x2="225.11" y2="812.12" stroke="#b3163a" stroke-width="1.3"/>
<ellipse cx="239.32" cy="753.69" rx="3.95" ry="3.55" fill="#b3163a" fill-opacity="0.1" stroke="#b3163a" stroke-width="1.35"/>
<line x1="232.52" y1="753.69" x2="246.12" y2="753.69" stroke="#b3163a" stroke-width="1.3"/>
<ellipse cx="260.34" cy="778.20" rx="3.95" ry="3.55" fill="#b3163a" fill-opacity="0.1" stroke="#b3163a" stroke-width="1.35"/>
<line x1="253.54" y1="778.20" x2="267.14" y2="778.20" stroke="#b3163a" stroke-width="1.3"/>
<ellipse cx="281.35" cy="793.63" rx="3.95" ry="3.55" fill="#b3163a" fill-opacity="0.1" stroke="#b3163a" stroke-width="1.35"/>
<line x1="274.55" y1="793.63" x2="288.15" y2="793.63" stroke="#b3163a" stroke-width="1.3"/>
<ellipse cx="302.36" cy="769.24" rx="3.95" ry="3.55" fill="#b3163a" fill-opacity="0.1" stroke="#b3163a" stroke-width="1.35"/>
<line x1="295.56" y1="769.24" x2="309.16" y2="769.24" stroke="#b3163a" stroke-width="1.3"/>
<ellipse cx="323.37" cy="766.72" rx="3.95" ry="3.55" fill="#b3163a" fill-opacity="0.1" stroke="#b3163a" stroke-width="1.35"/>
<line x1="316.57" y1="766.72" x2="330.17" y2="766.72" stroke="#b3163a" stroke-width="1.3"/>
<ellipse cx="344.38" cy="753.27" rx="3.95" ry="3.55" fill="#b3163a" fill-opacity="0.1" stroke="#b3163a" stroke-width="1.35"/>
<line x1="337.58" y1="753.27" x2="351.18" y2="753.27" stroke="#b3163a" stroke-width="1.3"/>
<ellipse cx="365.40" cy="767.56" rx="3.95" ry="3.55" fill="#b3163a" fill-opacity="0.1" stroke="#b3163a" stroke-width="1.35"/>
<line x1="358.60" y1="767.56" x2="372.20" y2="767.56" stroke="#b3163a" stroke-width="1.3"/>
<ellipse cx="386.41" cy="763.78" rx="3.95" ry="3.55" fill="#b3163a" fill-opacity="0.1" stroke="#b3163a" stroke-width="1.35"/>
<line x1="379.61" y1="763.78" x2="393.21" y2="763.78" stroke="#b3163a" stroke-width="1.3"/>
<ellipse cx="407.42" cy="756.21" rx="3.95" ry="3.55" fill="#b3163a" fill-opacity="0.1" stroke="#b3163a" stroke-width="1.35"/>
<line x1="400.62" y1="756.21" x2="414.22" y2="756.21" stroke="#b3163a" stroke-width="1.3"/>
<ellipse cx="428.43" cy="764.20" rx="3.95" ry="3.55" fill="#b3163a" fill-opacity="0.1" stroke="#b3163a" stroke-width="1.35"/>
<line x1="421.63" y1="764.20" x2="435.23" y2="764.20" stroke="#b3163a" stroke-width="1.3"/>
<ellipse cx="449.44" cy="769.66" rx="3.95" ry="3.55" fill="#b3163a" fill-opacity="0.1" stroke="#b3163a" stroke-width="1.35"/>
<line x1="442.64" y1="769.66" x2="456.24" y2="769.66" stroke="#b3163a" stroke-width="1.3"/>
<ellipse cx="470.46" cy="762.52" rx="3.95" ry="3.55" fill="#b3163a" fill-opacity="0.1" stroke="#b3163a" stroke-width="1.35"/>
<line x1="463.66" y1="762.52" x2="477.26" y2="762.52" stroke="#b3163a" stroke-width="1.3"/>
<ellipse cx="491.47" cy="764.20" rx="3.95" ry="3.55" fill="#b3163a" fill-opacity="0.1" stroke="#b3163a" stroke-width="1.35"/>
<line x1="484.67" y1="764.20" x2="498.27" y2="764.20" stroke="#b3163a" stroke-width="1.3"/>
<text transform="translate(76.82,888.79) scale(1.0800,1)" font-size="9.40" fill="#356287" stroke="#356287" stroke-width="0.08" stroke-linejoin="round">23</text>
<text transform="translate(87.92,821.44) scale(1.0800,1)" font-size="9.40" fill="#356287" stroke="#356287" stroke-width="0.08" stroke-linejoin="round">102.5</text>
<text transform="translate(139.11,822.19) scale(1.0800,1)" font-size="9.40" fill="#356287" stroke="#356287" stroke-width="0.08" stroke-linejoin="round">105</text>
<text transform="translate(144.19,755.29) scale(1.0800,1)" font-size="9.40" fill="#356287" stroke="#356287" stroke-width="0.08" stroke-linejoin="round">181</text>
<text transform="translate(175.42,770.44) scale(1.0800,1)" font-size="9.40" fill="#356287" stroke="#356287" stroke-width="0.08" stroke-linejoin="round">163</text>
<text transform="translate(195.02,793.54) scale(1.0800,1)" font-size="9.40" fill="#356287" stroke="#356287" stroke-width="0.08" stroke-linejoin="round">134.5</text>
<text transform="translate(223.78,820.84) scale(1.0800,1)" font-size="9.40" fill="#356287" stroke="#356287" stroke-width="0.08" stroke-linejoin="round">119</text>
<text transform="translate(224.72,748.59) scale(1.0800,1)" font-size="9.40" fill="#356287" stroke="#356287" stroke-width="0.08" stroke-linejoin="round">188.5</text>
<text transform="translate(260.20,773.09) scale(1.0800,1)" font-size="9.40" fill="#356287" stroke="#356287" stroke-width="0.08" stroke-linejoin="round">162</text>
<text transform="translate(271.79,806.08) scale(1.0800,1)" font-size="9.40" fill="#356287" stroke="#356287" stroke-width="0.08" stroke-linejoin="round">141</text>
<text transform="translate(286.64,763.84) scale(1.0800,1)" font-size="9.40" fill="#356287" stroke="#356287" stroke-width="0.08" stroke-linejoin="round">170</text>
<text transform="translate(320.22,779.09) scale(1.0800,1)" font-size="9.40" fill="#356287" stroke="#356287" stroke-width="0.08" stroke-linejoin="round">173</text>
<text transform="translate(334.53,746.99) scale(1.0800,1)" font-size="9.40" fill="#356287" stroke="#356287" stroke-width="0.08" stroke-linejoin="round">189</text>
<text transform="translate(356.80,781.08) scale(1.0800,1)" font-size="9.40" fill="#356287" stroke="#356287" stroke-width="0.08" stroke-linejoin="round">172</text>
<text transform="translate(370.32,758.99) scale(1.0800,1)" font-size="9.40" fill="#356287" stroke="#356287" stroke-width="0.08" stroke-linejoin="round">176.5</text>
<text transform="translate(396.27,750.54) scale(1.0800,1)" font-size="9.40" fill="#356287" stroke="#356287" stroke-width="0.08" stroke-linejoin="round">185.5</text>
<text transform="translate(423.87,757.94) scale(1.0800,1)" font-size="9.40" fill="#356287" stroke="#356287" stroke-width="0.08" stroke-linejoin="round">176</text>
<text transform="translate(436.57,782.09) scale(1.0800,1)" font-size="9.40" fill="#356287" stroke="#356287" stroke-width="0.08" stroke-linejoin="round">169.5</text>
<text transform="translate(461.51,756.34) scale(1.0800,1)" font-size="9.40" fill="#356287" stroke="#356287" stroke-width="0.08" stroke-linejoin="round">178</text>
<text transform="translate(485.42,758.24) scale(1.0800,1)" font-size="9.40" fill="#356287" stroke="#356287" stroke-width="0.08" stroke-linejoin="round">176</text>
<text transform="translate(382.01,714.00) scale(1.0259,1)" font-size="11.80" fill="#231f20" stroke="#231f20" stroke-width="0.08" stroke-linejoin="round">Platelets</text>
<text transform="translate(33.75,854.89) rotate(-90) scale(0.7679,1)" font-size="12.60" fill="#231f20" stroke="#231f20" stroke-width="0.42" stroke-linejoin="round">Platelet count (10<tspan font-size="9.83" dy="-4.54">9</tspan><tspan dy="4.54">/L)</tspan></text>
<text transform="translate(263.30,971.80) scale(0.6915,1)" font-size="13.00" fill="#231f20" stroke="#231f20" stroke-width="0.42" stroke-linejoin="round">Time point</text>
<text transform="translate(52.06,989.30) scale(0.9505,1)" font-size="10.00" font-weight="bold" fill="#231f20">No. of observations</text>
<text transform="translate(86.59,1005.15) scale(1.0700,1)" font-size="9.60" fill="#231f20" stroke="#231f20" stroke-width="0.08" stroke-linejoin="round">301</text>
<text transform="translate(111.40,1005.15) scale(1.0700,1)" font-size="9.60" fill="#231f20" stroke="#231f20" stroke-width="0.08" stroke-linejoin="round">268</text>
<text transform="translate(134.62,1005.15) scale(1.0700,1)" font-size="9.60" fill="#231f20" stroke="#231f20" stroke-width="0.08" stroke-linejoin="round">41</text>
<text transform="translate(150.57,1005.15) scale(1.0700,1)" font-size="9.60" fill="#231f20" stroke="#231f20" stroke-width="0.08" stroke-linejoin="round">156</text>
<text transform="translate(172.07,1005.15) scale(1.0700,1)" font-size="9.60" fill="#231f20" stroke="#231f20" stroke-width="0.08" stroke-linejoin="round">103</text>
<text transform="translate(195.50,1005.15) scale(1.0700,1)" font-size="9.60" fill="#231f20" stroke="#231f20" stroke-width="0.08" stroke-linejoin="round">58</text>
<text transform="translate(216.23,1005.15) scale(1.0700,1)" font-size="9.60" fill="#231f20" stroke="#231f20" stroke-width="0.08" stroke-linejoin="round">20</text>
<text transform="translate(238.27,1005.15) scale(1.0700,1)" font-size="9.60" fill="#231f20" stroke="#231f20" stroke-width="0.08" stroke-linejoin="round">40</text>
<text transform="translate(260.09,1005.20) scale(1.0700,1)" font-size="9.60" fill="#231f20" stroke="#231f20" stroke-width="0.08" stroke-linejoin="round">22</text>
<text transform="translate(281.28,1005.20) scale(1.0700,1)" font-size="9.60" fill="#231f20" stroke="#231f20" stroke-width="0.08" stroke-linejoin="round">24</text>
<text transform="translate(300.23,1005.15) scale(1.0700,1)" font-size="9.60" fill="#231f20" stroke="#231f20" stroke-width="0.08" stroke-linejoin="round">47</text>
<text transform="translate(321.42,1005.15) scale(1.0700,1)" font-size="9.60" fill="#231f20" stroke="#231f20" stroke-width="0.08" stroke-linejoin="round">13</text>
<text transform="translate(342.78,1005.20) scale(1.0700,1)" font-size="9.60" fill="#231f20" stroke="#231f20" stroke-width="0.08" stroke-linejoin="round">21</text>
<text transform="translate(364.10,1005.15) scale(1.0700,1)" font-size="9.60" fill="#231f20" stroke="#231f20" stroke-width="0.08" stroke-linejoin="round">43</text>
<text transform="translate(386.19,1005.20) scale(1.0700,1)" font-size="9.60" fill="#231f20" stroke="#231f20" stroke-width="0.08" stroke-linejoin="round">22</text>
<text transform="translate(406.95,1005.15) scale(1.0700,1)" font-size="9.60" fill="#231f20" stroke="#231f20" stroke-width="0.08" stroke-linejoin="round">14</text>
<text transform="translate(428.22,1005.15) scale(1.0700,1)" font-size="9.60" fill="#231f20" stroke="#231f20" stroke-width="0.08" stroke-linejoin="round">33</text>
<text transform="translate(447.23,1005.15) scale(1.0700,1)" font-size="9.60" fill="#231f20" stroke="#231f20" stroke-width="0.08" stroke-linejoin="round">20</text>
<text transform="translate(468.05,1005.15) scale(1.0700,1)" font-size="9.60" fill="#231f20" stroke="#231f20" stroke-width="0.08" stroke-linejoin="round">14</text>
<text transform="translate(488.17,1005.15) scale(1.0700,1)" font-size="9.60" fill="#231f20" stroke="#231f20" stroke-width="0.08" stroke-linejoin="round">96</text>
<text transform="translate(10.53,686.10)" font-size="18.00" font-weight="bold" fill="#000" stroke="#000" stroke-width="0.35" stroke-linejoin="round">C</text>
</svg>
</body></html>
